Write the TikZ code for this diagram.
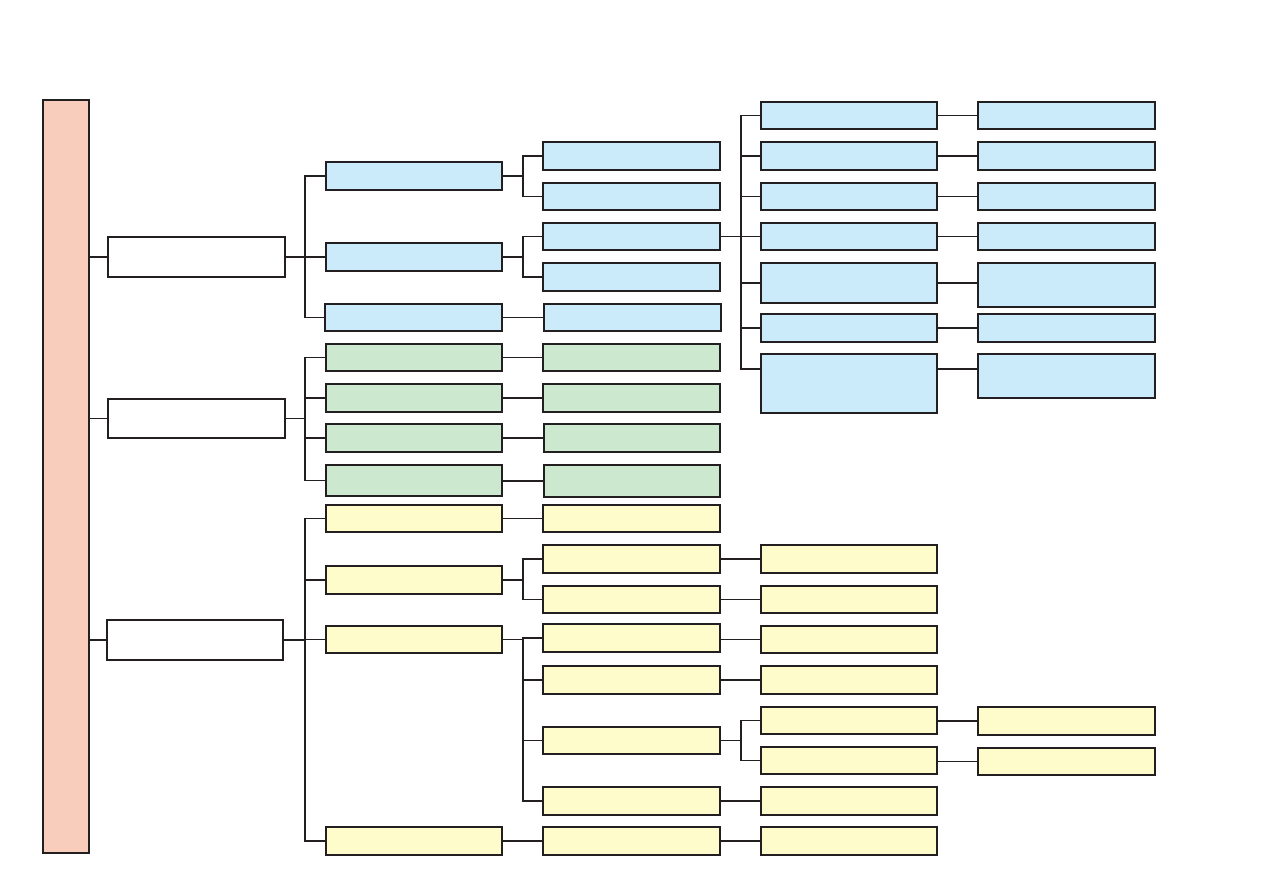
\documentclass[tikz,border=0pt]{standalone}
\usetikzlibrary{calc}
\definecolor{ink}{HTML}{231F20}
\definecolor{rootc}{HTML}{F9CDBC}
\definecolor{bluec}{HTML}{CCEBFA}
\definecolor{greenc}{HTML}{CCE8CF}
\definecolor{yellc}{HTML}{FFFCCC}
\tikzset{
  box/.style={draw=ink, line width=1.3pt, inner sep=0pt, outer sep=0pt, anchor=north west},
  rootbox/.style={box, fill=rootc},
  whitebox/.style={box, fill=white},
  bluebox/.style={box, fill=bluec},
  greenbox/.style={box, fill=greenc},
  yellbox/.style={box, fill=yellc},
  conn/.style={draw=ink, line width=1.3pt},
}
\newcommand\bx[6]{\node[#6, minimum width={(#4-#2)*1pt}, minimum height={(#5-#3)*1pt}] (#1) at (#2,#3) {};}
\newcommand\hc[2]{\draw[conn] (#1.east |- #2.west) -- (#2.west);}
\begin{document}
\begin{tikzpicture}[x=1pt,y=-1pt]
\useasboundingbox (0,0) rectangle (1263,893);
% root
\bx{root}{43}{100}{89}{853}{rootbox}
% level 1
\bx{A}{108}{237}{285}{277}{whitebox}
\bx{B}{108}{399}{285}{438}{whitebox}
\bx{C}{107}{620}{283}{660}{whitebox}
% blue branch
\bx{b1}{326}{162}{502}{190}{bluebox}
\bx{b2}{326}{243}{502}{271}{bluebox}
\bx{b3}{325}{304}{502}{331}{bluebox}
\bx{c1}{543}{142}{720}{170}{bluebox}
\bx{c2}{543}{183}{720}{210}{bluebox}
\bx{c3}{543}{223}{720}{250}{bluebox}
\bx{c4}{543}{263}{720}{291}{bluebox}
\bx{c5}{544}{304}{721}{331}{bluebox}
\bx{d1}{761}{102}{937}{129}{bluebox}
\bx{d2}{761}{142}{937}{170}{bluebox}
\bx{d3}{761}{183}{937}{210}{bluebox}
\bx{d4}{761}{223}{937}{250}{bluebox}
\bx{d5}{761}{263}{937}{303}{bluebox}
\bx{d6}{761}{314}{937}{342}{bluebox}
\bx{d7}{761}{354}{937}{413}{bluebox}
\bx{e1}{978}{102}{1155}{129}{bluebox}
\bx{e2}{978}{142}{1155}{170}{bluebox}
\bx{e3}{978}{183}{1155}{210}{bluebox}
\bx{e4}{978}{223}{1155}{250}{bluebox}
\bx{e5}{978}{263}{1155}{307}{bluebox}
\bx{e6}{978}{314}{1155}{342}{bluebox}
\bx{e7}{978}{354}{1155}{398}{bluebox}
% green branch
\bx{g1}{326}{344}{502}{371}{greenbox}
\bx{g2}{326}{384}{502}{412}{greenbox}
\bx{g3}{326}{424}{502}{452}{greenbox}
\bx{g4}{326}{465}{502}{496}{greenbox}
\bx{h1}{543}{344}{720}{371}{greenbox}
\bx{h2}{543}{384}{720}{412}{greenbox}
\bx{h3}{544}{424}{720}{452}{greenbox}
\bx{h4}{544}{465}{720}{497}{greenbox}
% yellow branch
\bx{y1}{326}{505}{502}{532}{yellbox}
\bx{y2}{326}{566}{502}{594}{yellbox}
\bx{y3}{326}{626}{502}{653}{yellbox}
\bx{y4}{326}{827}{502}{855}{yellbox}
\bx{z1}{543}{505}{720}{532}{yellbox}
\bx{z2}{543}{545}{720}{573}{yellbox}
\bx{z3}{543}{586}{720}{613}{yellbox}
\bx{z4}{543}{624}{720}{652}{yellbox}
\bx{z5}{543}{666}{720}{694}{yellbox}
\bx{z6}{543}{727}{720}{754}{yellbox}
\bx{z7}{543}{787}{720}{815}{yellbox}
\bx{z8}{543}{827}{720}{855}{yellbox}
\bx{w1}{761}{545}{937}{573}{yellbox}
\bx{w2}{761}{586}{937}{613}{yellbox}
\bx{w3}{761}{626}{937}{653}{yellbox}
\bx{w4}{761}{666}{937}{694}{yellbox}
\bx{w5}{761}{707}{937}{734}{yellbox}
\bx{w6}{761}{747}{937}{774}{yellbox}
\bx{w7}{761}{787}{937}{815}{yellbox}
\bx{w8}{761}{827}{937}{855}{yellbox}
\bx{v1}{978}{707}{1155}{735}{yellbox}
\bx{v2}{978}{748}{1155}{775}{yellbox}
% connectors
\foreach \c in {A,B,C} \draw[conn] (root.east) |- (\c.west);
\foreach \c in {b1,b2,b3} \draw[conn] (A.east) -- ++(20,0) |- (\c.west);
\foreach \c in {g1,g2,g3,g4} \draw[conn] (B.east) -- ++(20,0) |- (\c.west);
\foreach \c in {y1,y2,y3,y4} \draw[conn] (C.east) -- ++(22,0) |- (\c.west);
\foreach \c in {c1,c2} \draw[conn] (b1.east) -- ++(21,0) |- (\c.west);
\foreach \c in {c3,c4} \draw[conn] (b2.east) -- ++(21,0) |- (\c.west);
\hc{b3}{c5}
\foreach \c in {d1,d2,d3,d4,d5,d6} \draw[conn] (c3.east) -- ++(21,0) |- (\c.west);
\coordinate (d7in) at ($(d7.north west)+(0,15)$);
\draw[conn] (c3.east) -- ++(21,0) |- (d7in);
\foreach \i in {1,2,3,4,6} \hc{d\i}{e\i}
\draw[conn] (d5.east) -- (d5.east -| e5.west);
\draw[conn] (d7in -| d7.east) -- (d7in -| e7.west);
\foreach \i in {1,...,4} \hc{g\i}{h\i}
\hc{y1}{z1}
\foreach \c in {z2,z3} \draw[conn] (y2.east) -- ++(21,0) |- (\c.west);
\foreach \c in {z4,z5,z6,z7} \draw[conn] (y3.east) -- ++(21,0) |- (\c.west);
\hc{y4}{z8}
\hc{z2}{w1}
\hc{z3}{w2}
\hc{z4}{w3}
\hc{z5}{w4}
\foreach \c in {w5,w6} \draw[conn] (z6.east) -- ++(21,0) |- (\c.west);
\hc{z7}{w7}
\hc{z8}{w8}
\hc{w5}{v1}
\hc{w6}{v2}
\end{tikzpicture}
\end{document}
